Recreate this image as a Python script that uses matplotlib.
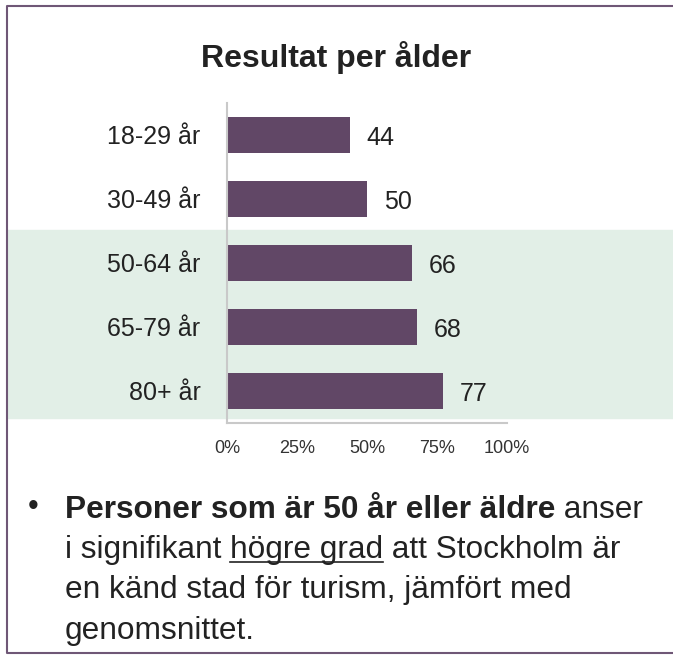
import matplotlib
matplotlib.use('Agg')
import matplotlib.pyplot as plt
from matplotlib.lines import Line2D
from matplotlib.patches import Rectangle

plt.rcParams['font.family'] = ['Liberation Sans', 'DejaVu Sans']

W, H = 673, 656

groups = ['18-29 år', '30-49 år', '50-64 år', '65-79 år', '80+ år']
values = [44, 50, 66, 68, 77]
x_ticks = [0, 25, 50, 75, 100]
x_tick_labels = ['0%', '25%', '50%', '75%', '100%']
title = 'Resultat per ålder'

note_bold = 'Personer som är 50 år eller äldre'
note_line1_rest = ' anser'
note_line2 = ['i signifikant ', 'högre grad', ' att Stockholm är']
note_line3 = 'en känd stad för turism, jämfört med'
note_line4 = 'genomsnittet.'

BAR_COLOR = '#614766'
FRAME_COLOR = '#6f5776'
BAND_COLOR = '#e2efe7'
AXIS_COLOR = '#c9c9c9'
TEXT_COLOR = '#222222'


def fx(px):
    return px / W


def fy(py):
    return 1 - py / H


fig = plt.figure(figsize=(W / 100, H / 100), dpi=100)

# green band behind the 50+ groups
fig.add_artist(Rectangle((fx(7), fy(418)), 1 - fx(7), 188 / H,
                         transform=fig.transFigure, color=BAND_COLOR, zorder=-1))

# frame (open on the right)
fig.add_artist(Line2D([1, fx(7), fx(7), 1], [fy(653), fy(653), fy(6), fy(6)],
                      transform=fig.transFigure, color=FRAME_COLOR, linewidth=1.5))

ax = fig.add_axes([fx(227), fy(423), 280 / W, 320 / H])
ax.patch.set_alpha(0)
bars = ax.barh(range(len(groups)), values, height=0.56, color=BAR_COLOR)
ax.set_xlim(0, 100)
ax.set_ylim(len(groups) - 0.5, -0.5)
for i, v in enumerate(values):
    ax.annotate(str(v), (v, i), xytext=(12, -2), textcoords='offset points',
                ha='left', va='center', fontsize=18, color=TEXT_COLOR)

ax.set_xticks(x_ticks, x_tick_labels)
ax.set_yticks(range(len(groups)), groups)
ax.tick_params(axis='x', length=0, pad=12, labelsize=13, labelcolor='#333333')
ax.tick_params(axis='y', length=0, pad=19, labelsize=18, labelcolor=TEXT_COLOR)
for side in ['top', 'right']:
    ax.spines[side].set_visible(False)
for side in ['left', 'bottom']:
    ax.spines[side].set_color(AXIS_COLOR)
    ax.spines[side].set_linewidth(1.5)

fig.text(fx(336), fy(67), title, ha='center', va='baseline',
         fontsize=23, fontweight='bold', color=TEXT_COLOR)

renderer = fig.canvas.get_renderer()


def put(x, y, s, **kw):
    t = fig.text(fx(x), fy(y), s, va='baseline', fontsize=22.8, color=TEXT_COLOR, **kw)
    return t.get_window_extent(renderer)


fig.text(fx(33), fy(507), '•', ha='center', va='center', fontsize=22, color=TEXT_COLOR)
bb = put(65, 518, note_bold, fontweight='bold')
put(bb.x1, 518, note_line1_rest)

x = 65
for i, part in enumerate(note_line2):
    bb = put(x, 558, part)
    if i == 1:
        fig.add_artist(Line2D([fx(bb.x0), fx(bb.x1)], [fy(562), fy(562)],
                              transform=fig.transFigure, color=TEXT_COLOR, linewidth=1.2))
    x = bb.x1

put(65, 598, note_line3)
put(65, 639, note_line4)

fig.savefig('out.png', dpi=100)
